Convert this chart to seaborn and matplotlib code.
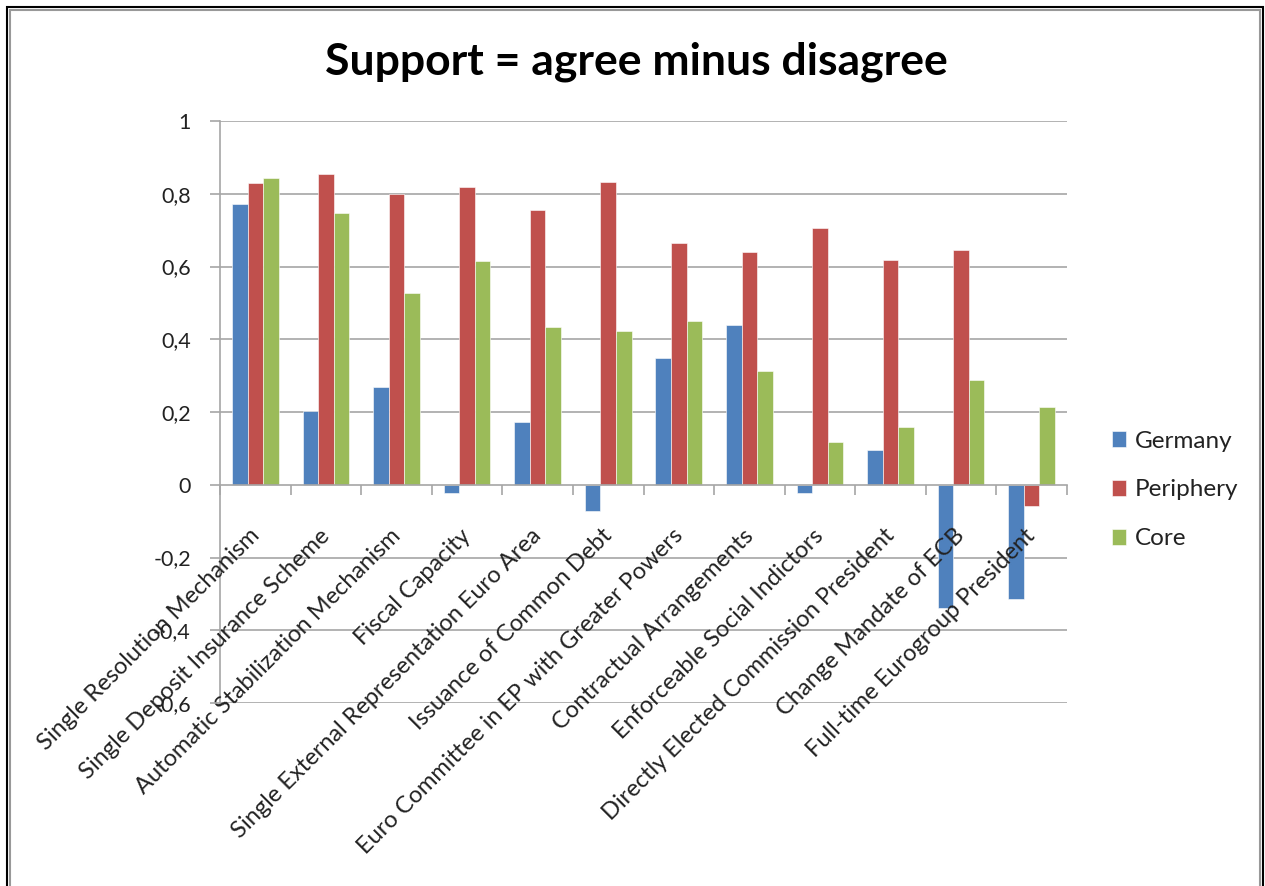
import matplotlib
matplotlib.use("Agg")
import matplotlib.pyplot as plt
from matplotlib.patches import Rectangle
from matplotlib.transforms import ScaledTranslation
import seaborn as sns
import pandas as pd
import numpy as np

categories = [
    "Single Resolution Mechanism",
    "Single Deposit Insurance Scheme",
    "Automatic Stabilization Mechanism",
    "Fiscal Capacity",
    "Single External Representation Euro Area",
    "Issuance of Common Debt",
    "Euro Committee in EP with Greater Powers",
    "Contractual Arrangements",
    "Enforceable Social Indictors",
    "Directly Elected Commission President",
    "Change Mandate of ECB",
    "Full-time Eurogroup President",
]
germany = [0.773, 0.204, 0.268, -0.023, 0.173, -0.072, 0.348, 0.440, -0.023, 0.095, -0.339, -0.314]
periphery = [0.830, 0.854, 0.800, 0.819, 0.756, 0.833, 0.664, 0.639, 0.707, 0.618, 0.646, -0.059]
core = [0.843, 0.748, 0.527, 0.614, 0.433, 0.422, 0.450, 0.313, 0.117, 0.158, 0.288, 0.215]
series_names = ["Germany", "Periphery", "Core"]
colors = ["#4F81BD", "#C0504D", "#9BBB59"]
y_ticks = [-0.6, -0.4, -0.2, 0, 0.2, 0.4, 0.6, 0.8, 1.0]
y_tick_labels = ["-0,6", "-0,4", "-0,2", "0", "0,2", "0,4", "0,6", "0,8", "1"]
title = "Support = agree minus disagree"

rows = []
for name, vals in zip(series_names, [germany, periphery, core]):
    for c, v in zip(categories, vals):
        rows.append({"category": c, "series": name, "value": v})
df = pd.DataFrame(rows)

sns.set_style("white")
plt.rcParams["font.family"] = ["Lato", "DejaVu Sans"]

W, H = 1265, 886
fig = plt.figure(figsize=(W / 100, H / 100), dpi=100)
ax = fig.add_axes([220 / W, 1 - 703 / H, (1067 - 220) / W, (703 - 121) / H])

sns.barplot(data=df, x="category", y="value", hue="series", order=categories,
            hue_order=series_names, palette=colors, width=0.66, ax=ax,
            saturation=1, edgecolor="white", linewidth=0.4, legend=True)

ax.set_ylim(-0.6, 1.0)
ax.set_xlim(-0.5, len(categories) - 0.5)
ax.set_yticks(y_ticks)
ax.set_yticklabels(y_tick_labels, fontsize=15.5, color="#222222")
ax.grid(False)
for yv in y_ticks:
    if yv != 0:
        ax.axhline(yv, color="#A6A6A6", linewidth=1.2, zorder=0.5)
ax.set_axisbelow(False)
ax.set_xlabel("")
ax.set_ylabel("")

for s in ["top", "right"]:
    ax.spines[s].set_visible(False)
ax.spines["left"].set_color("#A6A6A6")
ax.spines["left"].set_linewidth(1.2)
ax.spines["bottom"].set_position(("data", 0))
ax.spines["bottom"].set_color("#A6A6A6")
ax.spines["bottom"].set_linewidth(1.2)

ax.tick_params(axis="y", length=7, width=1.2, color="#A6A6A6", pad=14, left=True)
ax.set_xticks(np.arange(len(categories)))
ax.set_xticks(np.arange(-0.5, len(categories) + 0.5, 1), minor=True)
ax.tick_params(axis="x", which="minor", length=7, width=1.2, color="#A6A6A6", bottom=True, direction="out")
ax.tick_params(axis="x", which="major", length=0, pad=29)
ax.set_xticklabels(categories, rotation=45, ha="right", va="top",
                   rotation_mode="anchor", fontsize=17, color="#222222")
off = ScaledTranslation(-0.07, 0, fig.dpi_scale_trans)
for lab in ax.get_xticklabels():
    lab.set_transform(lab.get_transform() + off)

leg = ax.legend(loc="center left", bbox_to_anchor=(1090 / W, 1 - 490 / H),
                bbox_transform=fig.transFigure, frameon=False, fontsize=17.5,
                handlelength=0.6, handleheight=0.6, labelspacing=1.15,
                handletextpad=0.35)
for t in leg.get_texts():
    t.set_color("#222222")

fig.text(636 / W, 1 - 62 / H, title, ha="center", va="center", fontsize=32,
         fontweight="bold", color="black")

fig.patches.append(Rectangle((7 / W, -0.02), (1263 - 7) / W, 1.02 - 7 / H,
                             transform=fig.transFigure, fill=False,
                             edgecolor="black", linewidth=1.5))
fig.patches.append(Rectangle((10 / W, -0.02), (1260 - 10) / W, 1.02 - 10 / H,
                             transform=fig.transFigure, fill=False,
                             edgecolor="#999999", linewidth=1.5))

fig.savefig("out.png", dpi=100)
